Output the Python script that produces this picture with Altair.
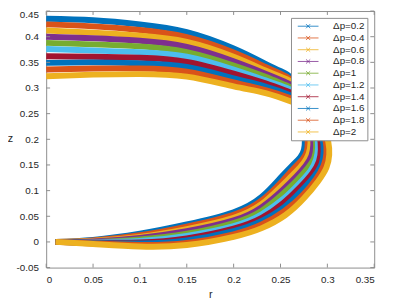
import altair as alt
import pandas as pd

labels = ["Δp=0.2", "Δp=0.4", "Δp=0.6", "Δp=0.8", "Δp=1",
          "Δp=1.2", "Δp=1.4", "Δp=1.6", "Δp=1.8", "Δp=2"]
colors = ["#0072BD", "#D95319", "#EDB120", "#7E2F8E", "#77AC30",
          "#4DBEEE", "#A2142F", "#0072BD", "#D95319", "#EDB120"]

x_ticks = [0, 0.05, 0.1, 0.15, 0.2, 0.25, 0.3, 0.35]
y_ticks = [-0.05, 0, 0.05, 0.1, 0.15, 0.2, 0.25, 0.3, 0.35, 0.4, 0.45]

# profile points (bottom contact -> bulge -> apex on axis)
r_dp02 = [0.010, 0.05, 0.10, 0.15, 0.20, 0.23, 0.250, 0.263, 0.271, 0.275, 0.276, 0.275, 0.272, 0.268, 0.262, 0.250, 0.234, 0.200, 0.150, 0.100, 0.050, 0.000]
z_dp02 = [0.000, 0.004, 0.016, 0.034, 0.058, 0.088, 0.125, 0.150, 0.165, 0.180, 0.200, 0.225, 0.255, 0.285, 0.318, 0.333, 0.347, 0.377, 0.409, 0.424, 0.432, 0.435]
r_dp04 = [0.010, 0.05, 0.10, 0.15, 0.20, 0.23, 0.251, 0.264, 0.273, 0.278, 0.279, 0.278, 0.275, 0.270, 0.263, 0.251, 0.234, 0.200, 0.150, 0.100, 0.050, 0.000]
z_dp04 = [0.000, 0.003, 0.013, 0.030, 0.053, 0.081, 0.117, 0.143, 0.160, 0.176, 0.197, 0.222, 0.251, 0.281, 0.312, 0.327, 0.341, 0.369, 0.399, 0.413, 0.420, 0.424]
r_dp06 = [0.010, 0.05, 0.10, 0.15, 0.20, 0.23, 0.251, 0.266, 0.275, 0.280, 0.282, 0.281, 0.277, 0.272, 0.265, 0.253, 0.234, 0.200, 0.150, 0.100, 0.050, 0.000]
z_dp06 = [0.000, 0.002, 0.010, 0.025, 0.047, 0.074, 0.109, 0.136, 0.155, 0.172, 0.193, 0.218, 0.248, 0.276, 0.306, 0.320, 0.334, 0.361, 0.390, 0.402, 0.408, 0.412]
r_dp08 = [0.010, 0.05, 0.10, 0.15, 0.20, 0.23, 0.252, 0.267, 0.277, 0.283, 0.285, 0.284, 0.280, 0.274, 0.266, 0.254, 0.234, 0.200, 0.150, 0.100, 0.050, 0.000]
z_dp08 = [0.000, 0.001, 0.008, 0.021, 0.042, 0.068, 0.101, 0.128, 0.149, 0.168, 0.190, 0.215, 0.244, 0.272, 0.299, 0.313, 0.328, 0.352, 0.380, 0.392, 0.397, 0.400]
r_dp10 = [0.010, 0.05, 0.10, 0.15, 0.20, 0.23, 0.252, 0.268, 0.279, 0.286, 0.288, 0.287, 0.283, 0.276, 0.268, 0.255, 0.234, 0.200, 0.150, 0.100, 0.050, 0.000]
z_dp10 = [0.000, 0.000, 0.005, 0.016, 0.037, 0.061, 0.093, 0.121, 0.144, 0.164, 0.187, 0.212, 0.240, 0.267, 0.293, 0.306, 0.322, 0.344, 0.370, 0.381, 0.385, 0.388]
r_dp12 = [0.010, 0.05, 0.10, 0.15, 0.20, 0.23, 0.253, 0.270, 0.282, 0.288, 0.290, 0.289, 0.285, 0.279, 0.269, 0.257, 0.234, 0.200, 0.150, 0.100, 0.050, 0.000]
z_dp12 = [0.000, 0.000, 0.002, 0.012, 0.031, 0.054, 0.084, 0.114, 0.139, 0.161, 0.183, 0.208, 0.237, 0.263, 0.287, 0.300, 0.315, 0.336, 0.361, 0.370, 0.373, 0.376]
r_dp14 = [0.010, 0.05, 0.10, 0.15, 0.20, 0.23, 0.253, 0.271, 0.284, 0.291, 0.293, 0.292, 0.288, 0.281, 0.271, 0.258, 0.234, 0.200, 0.150, 0.100, 0.050, 0.000]
z_dp14 = [0.000, -0.001, -0.001, 0.007, 0.026, 0.047, 0.076, 0.107, 0.134, 0.157, 0.180, 0.205, 0.233, 0.258, 0.281, 0.293, 0.309, 0.328, 0.351, 0.359, 0.361, 0.362]
r_dp16 = [0.010, 0.05, 0.10, 0.15, 0.20, 0.23, 0.254, 0.272, 0.286, 0.294, 0.296, 0.295, 0.291, 0.283, 0.272, 0.259, 0.234, 0.200, 0.150, 0.100, 0.050, 0.000]
z_dp16 = [0.000, -0.002, -0.003, 0.003, 0.021, 0.041, 0.068, 0.099, 0.128, 0.153, 0.177, 0.202, 0.229, 0.254, 0.274, 0.287, 0.303, 0.319, 0.341, 0.348, 0.350, 0.349]
r_dp18 = [0.010, 0.05, 0.10, 0.15, 0.20, 0.23, 0.254, 0.274, 0.288, 0.296, 0.299, 0.298, 0.293, 0.285, 0.274, 0.261, 0.234, 0.200, 0.150, 0.100, 0.050, 0.000]
z_dp18 = [0.000, -0.003, -0.006, -0.002, 0.015, 0.034, 0.060, 0.092, 0.123, 0.149, 0.173, 0.198, 0.226, 0.249, 0.268, 0.280, 0.296, 0.311, 0.332, 0.338, 0.338, 0.336]
r_dp20 = [0.010, 0.05, 0.10, 0.15, 0.20, 0.23, 0.255, 0.275, 0.290, 0.299, 0.302, 0.301, 0.296, 0.287, 0.275, 0.262, 0.234, 0.200, 0.150, 0.100, 0.050, 0.000]
z_dp20 = [0.000, -0.004, -0.009, -0.006, 0.010, 0.027, 0.052, 0.085, 0.118, 0.145, 0.170, 0.195, 0.222, 0.245, 0.262, 0.273, 0.290, 0.303, 0.322, 0.327, 0.326, 0.323]

curves = [(r_dp02, z_dp02), (r_dp04, z_dp04), (r_dp06, z_dp06), (r_dp08, z_dp08),
          (r_dp10, z_dp10), (r_dp12, z_dp12), (r_dp14, z_dp14), (r_dp16, z_dp16),
          (r_dp18, z_dp18), (r_dp20, z_dp20)]

rows = []
for k, (rs, zs) in enumerate(curves):
    for i, (r, z) in enumerate(zip(rs, zs)):
        rows.append({"label": labels[k], "k": k, "i": i, "r": r, "z": z})
df = pd.DataFrame(rows)

W, H = 335, 262
FONT = "Liberation Sans"
AXC = "#8c8c8c"
TXT = "#262626"
fmt = "datum.value < 0 ? '-' + format(-datum.value, '~g') : format(datum.value, '~g')"

xscale = alt.Scale(domain=[0, 0.35], nice=False, zero=False)
yscale = alt.Scale(domain=[-0.05, 0.45], nice=False, zero=False)

# legend glyph: short line with an "x" marker in its middle
sym = "M-2.12,0L2.12,0M-0.42,-0.42L0.42,0.42M-0.42,0.42L0.42,-0.42M7.8,0"

lines = alt.Chart(df).mark_line(strokeWidth=6, interpolate="natural").encode(
    x=alt.X("r:Q", scale=xscale,
            axis=alt.Axis(values=x_ticks, tickCount=20, title="r", labelExpr=fmt,
                          ticks=False, domain=False, grid=False, labelPadding=7,
                          titlePadding=5, labelOverlap=False)),
    y=alt.Y("z:Q", scale=yscale,
            axis=alt.Axis(values=y_ticks, tickCount=20, title="z", labelExpr=fmt,
                          ticks=False, domain=False, grid=False, labelPadding=8,
                          titleAngle=0, titleX=-37, titleY=130, titleAlign="center",
                          titleBaseline="middle", labelOverlap=False,
                          labelOffset={"condition": {"test": "datum.value > 0.44", "value": 4},
                                       "value": 0})),
    color=alt.Color("label:N", scale=alt.Scale(domain=labels, range=colors),
                    legend=alt.Legend(title=None, orient="none", legendX=250, legendY=7,
                                      fillColor="white", strokeColor=AXC, padding=3,
                                      symbolType=sym, symbolSize=100,
                                      symbolStrokeWidth=0.8, symbolOffset=9,
                                      symbolFillColor="transparent",
                                      labelOffset=20, labelFontSize=10,
                                      labelColor=TXT, labelFont=FONT, rowPadding=1)),
    order=alt.Order("i:Q"),
)

xt = pd.DataFrame({"r": x_ticks})
yt = pd.DataFrame({"z": y_ticks})
tick_b = alt.Chart(xt).mark_rule(color=AXC, strokeWidth=1).encode(
    x="r:Q", y=alt.value(H), y2=alt.value(H - 4))
tick_t = alt.Chart(xt).mark_rule(color=AXC, strokeWidth=1).encode(
    x="r:Q", y=alt.value(0), y2=alt.value(4))
tick_l = alt.Chart(yt).mark_rule(color=AXC, strokeWidth=1).encode(
    y="z:Q", x=alt.value(0), x2=alt.value(4))
tick_r = alt.Chart(yt).mark_rule(color=AXC, strokeWidth=1).encode(
    y="z:Q", x=alt.value(W), x2=alt.value(W - 4))

chart = alt.layer(lines, tick_b, tick_t, tick_l, tick_r).properties(
    width=W, height=H,
    padding={"left": 39, "top": 0, "right": 11, "bottom": 30},
    autosize=alt.AutoSizeParams(type="none"),
).configure_view(stroke=AXC, strokeWidth=1).configure_axis(
    labelFont=FONT, titleFont=FONT, labelColor=TXT, titleColor=TXT,
    labelFontSize=10, titleFontSize=11, titleFontWeight="normal",
).configure_legend(labelFont=FONT)

chart.save("out.html", embed_options={"renderer": "svg", "actions": False})
